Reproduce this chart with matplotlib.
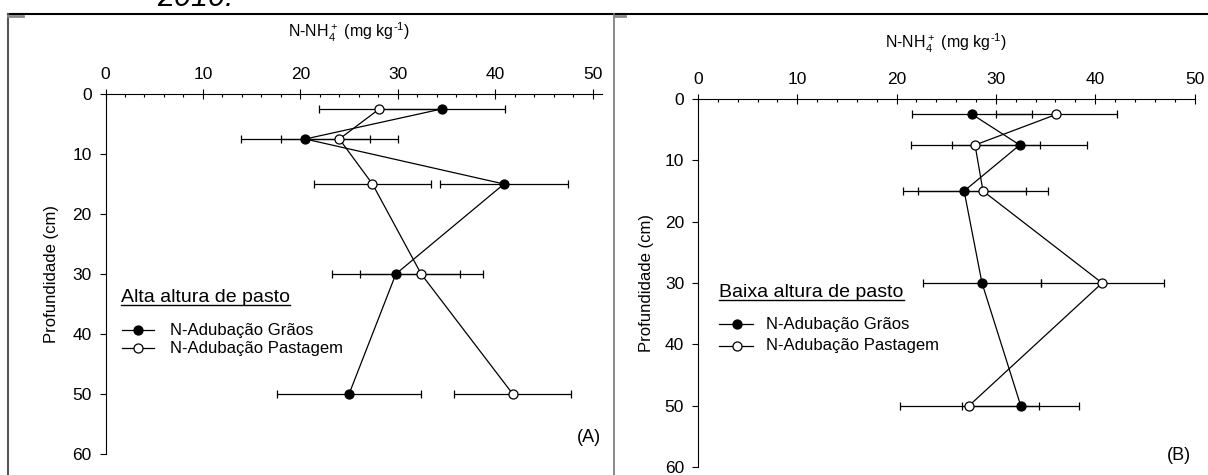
import matplotlib
matplotlib.use('Agg')
import matplotlib.pyplot as plt
from matplotlib.lines import Line2D
from matplotlib.ticker import MultipleLocator

plt.rcParams['font.family'] = 'Liberation Sans'
plt.rcParams['mathtext.fontset'] = 'custom'
plt.rcParams['mathtext.rm'] = 'Liberation Sans'
plt.rcParams['mathtext.default'] = 'regular'

profundidade = [2.5, 7.5, 15, 30, 50]

# alta altura de pasto
alta_graos = [34.5, 20.5, 40.9, 29.8, 25.0]
alta_graos_ep = [6.5, 6.6, 6.6, 6.6, 7.4]
alta_pastagem = [28.1, 24.0, 27.4, 32.4, 41.8]
alta_pastagem_ep = [6.2, 6.0, 6.0, 6.3, 6.0]

# baixa altura de pasto
baixa_graos = [27.6, 32.4, 26.8, 28.6, 32.5]
baixa_graos_ep = [6.0, 6.8, 6.2, 5.9, 5.9]
baixa_pastagem = [36.1, 27.9, 28.7, 40.7, 27.3]
baixa_pastagem_ep = [6.1, 6.5, 6.5, 6.2, 7.0]

x_ticks = [0, 10, 20, 30, 40, 50]
y_ticks = [0, 10, 20, 30, 40, 50, 60]
series = ['N-Adubação Grãos', 'N-Adubação Pastagem']
xlabel = r'N-NH$_4^+$ (mg kg$^{\text{-1}}$)'
ylabel = 'Profundidade (cm)'

W, H = 1208, 475
fig = plt.figure(figsize=(W / 100, H / 100), dpi=100)


def fx(x):
    return x / W


def fy(y):
    return 1 - y / H


def box(x0, y0, x1, y1):
    return [fx(x0), fy(y1), (x1 - x0) / W, (y1 - y0) / H]


def painel(rect, xmax, graos, graos_ep, pastagem, pastagem_ep, ylab_x, title_y):
    ax = fig.add_axes(rect)
    for x, ep in ((graos, graos_ep), (pastagem, pastagem_ep)):
        ax.errorbar(x, profundidade, xerr=ep, fmt='none', ecolor='black',
                    elinewidth=0.9, capsize=3, capthick=0.9, zorder=2)
    ax.plot(graos, profundidade, '-', color='black', lw=0.9, zorder=3)
    ax.plot(pastagem, profundidade, '-', color='black', lw=0.9, zorder=3)
    ax.plot(graos, profundidade, 'o', mfc='black', mec='black', ms=6.5,
            mew=0.9, zorder=4)
    ax.plot(pastagem, profundidade, 'o', mfc='white', mec='black', ms=6.5,
            mew=0.9, zorder=4)

    ax.set_xlim(0, xmax)
    ax.set_ylim(60, 0)
    ax.set_xticks(x_ticks)
    ax.set_yticks(y_ticks)
    ax.xaxis.set_minor_locator(MultipleLocator(2))
    ax.xaxis.tick_top()
    ax.tick_params(axis='x', which='major', direction='inout', length=7.2,
                   width=0.8, pad=5, labelsize=12.5)
    ax.tick_params(axis='x', which='minor', direction='in', length=2.5,
                   width=0.8)
    ax.tick_params(axis='y', direction='out', length=4, width=0.8, pad=6,
                   labelsize=12.5)
    for s in ('right', 'bottom'):
        ax.spines[s].set_visible(False)
    for s in ('left', 'top'):
        ax.spines[s].set_linewidth(0.8)
    ax.patch.set_alpha(0)

    ax.text(25, title_y, xlabel, transform=ax.get_xaxis_transform(),
            ha='center', va='center', fontsize=11.5)
    ax.text(ylab_x, 0.5, ylabel, transform=ax.transAxes, rotation=90,
            ha='center', va='center', fontsize=12)
    return ax


def legenda(titulo, x, base, linhas, h0, h1, mk, tx):
    r = fig.canvas.get_renderer()
    t = fig.text(fx(x), fy(base), titulo, fontsize=14, va='baseline')
    bb = t.get_window_extent(r)
    fig.add_artist(Line2D([fx(bb.x0), fx(bb.x1)], [fy(base + 2.5)] * 2,
                          color='black', lw=1.0))
    for lab, y, fc in zip(series, linhas, ('black', 'white')):
        fig.add_artist(Line2D([fx(h0), fx(h1)], [fy(y)] * 2, color='black',
                              lw=0.9))
        fig.add_artist(Line2D([fx(mk)], [fy(y)], marker='o', mfc=fc,
                              mec='black', ms=6.5, mew=0.9))
        fig.text(fx(tx), fy(y), lab, fontsize=12, va='center')


painel(box(105.5, 94, 602.4, 454), 51, alta_graos, alta_graos_ep,
       alta_pastagem, alta_pastagem_ep, -0.1077, 1.172)
painel(box(698, 99, 1194.5, 467), 50, baixa_graos, baixa_graos_ep,
       baixa_pastagem, baixa_pastagem_ep, -0.1037, 1.152)

legenda('Alta altura de pasto', 121, 302, (330, 348), 122, 154, 138, 170)
legenda('Baixa altura de pasto', 719.5, 297, (324, 345.5), 719, 753, 737, 766)

fig.text(fx(589), fy(437), '(A)', fontsize=13, ha='center', va='center')
fig.text(fx(1179), fy(456), '(B)', fontsize=13, ha='center', va='center')

# moldura dos painéis
fig.add_artist(Line2D([fx(8), fx(W)], [fy(14), fy(14)], color='black', lw=1.5))
fig.add_artist(Line2D([fx(8), fx(8)], [fy(14), 0], color='#555555', lw=1.5))
fig.add_artist(Line2D([fx(614), fx(614)], [fy(14), 0], color='#777777', lw=1.2))
fig.add_artist(Line2D([fx(8), fx(23)], [fy(15.5)] * 2, color='#888888', lw=2))
fig.add_artist(Line2D([fx(614), fx(625)], [fy(15.5)] * 2, color='#888888', lw=2))

fig.text(fx(157), fy(6), '2010.', fontsize=22, style='italic', va='baseline')

fig.savefig('out.png', dpi=100)
